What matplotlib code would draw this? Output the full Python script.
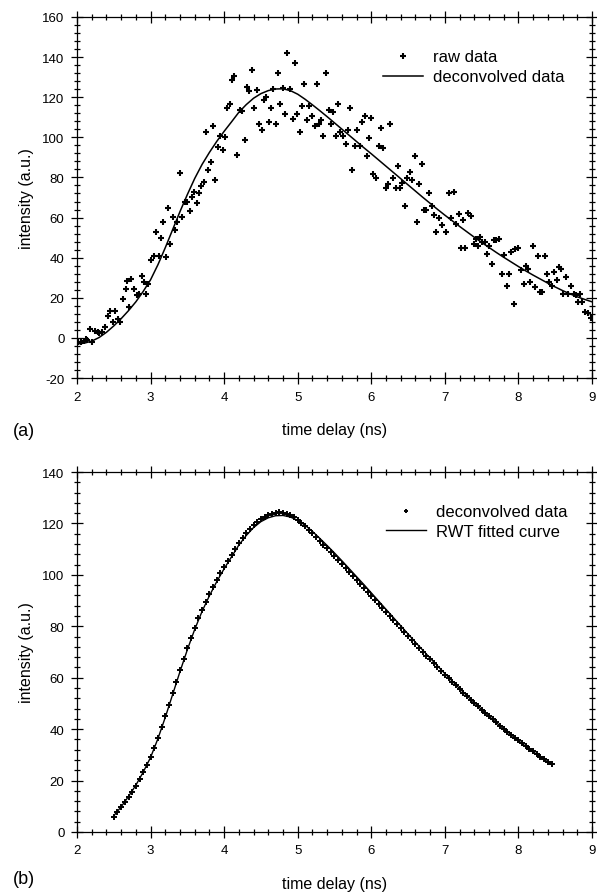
import matplotlib
matplotlib.use("Agg")
import matplotlib.pyplot as plt
from matplotlib.ticker import MultipleLocator

plt.rcParams["font.family"] = ["Liberation Sans", "DejaVu Sans"]
plt.rcParams["axes.unicode_minus"] = False

# ── (a) raw data (time delay ns, intensity a.u.) ─────────────────────────────
raw_t = [2.01, 2.05, 2.09, 2.12, 2.14, 2.17, 2.20, 2.24, 2.28, 2.30, 2.34, 2.38,
         2.42, 2.45, 2.49, 2.52, 2.56, 2.58, 2.62, 2.66, 2.68, 2.71, 2.74, 2.78,
         2.81, 2.84, 2.88, 2.91, 2.94, 2.97, 3.01, 3.04, 3.07, 3.11, 3.14, 3.17,
         3.21, 3.24, 3.26, 3.30, 3.33, 3.36, 3.40, 3.43, 3.47, 3.49, 3.53, 3.56,
         3.59, 3.63, 3.66, 3.69, 3.72, 3.75, 3.78, 3.82, 3.85, 3.88, 3.92, 3.95,
         3.98, 4.01, 4.04, 4.08, 4.11, 4.14, 4.18, 4.21, 4.24, 4.28, 4.31, 4.34,
         4.38, 4.41, 4.44, 4.47, 4.51, 4.54, 4.57, 4.61, 4.64, 4.67, 4.70, 4.73,
         4.76, 4.80, 4.83, 4.86, 4.89, 4.93, 4.96, 4.99, 5.03, 5.06, 5.09, 5.13,
         5.16, 5.19, 5.23, 5.26, 5.29, 5.32, 5.35, 5.38, 5.42, 5.45, 5.48, 5.52,
         5.55, 5.58, 5.61, 5.65, 5.68, 5.71, 5.74, 5.78, 5.81, 5.84, 5.87, 5.91,
         5.94, 5.97, 6.00, 6.03, 6.07, 6.10, 6.13, 6.16, 6.20, 6.23, 6.26, 6.30,
         6.33, 6.36, 6.39, 6.42, 6.46, 6.49, 6.52, 6.55, 6.59, 6.62, 6.65, 6.69,
         6.72, 6.75, 6.78, 6.82, 6.85, 6.88, 6.92, 6.96, 7.01, 7.05, 7.08, 7.12,
         7.15, 7.19, 7.22, 7.25, 7.28, 7.31, 7.35, 7.39, 7.42, 7.45, 7.48, 7.51,
         7.54, 7.57, 7.60, 7.64, 7.67, 7.70, 7.74, 7.78, 7.80, 7.84, 7.87, 7.90,
         7.94, 7.96, 7.99, 8.03, 8.07, 8.10, 8.13, 8.16, 8.20, 8.23, 8.26, 8.29,
         8.32, 8.36, 8.39, 8.42, 8.46, 8.48, 8.52, 8.55, 8.58, 8.61, 8.65, 8.68,
         8.71, 8.75, 8.78, 8.81, 8.84, 8.87, 8.91, 8.95, 8.99]
raw_y = [-2.2, -2.2, -1.5, -0.5, -0.9, 4.4, -1.9, 3.6, 2.8, 2.4, 3.1, 5.3,
         11.1, 13.4, 7.8, 13.4, 9.4, 8.1, 19.4, 24.4, 28.5, 15.3, 29.4, 24.4,
         21.4, 21.9, 31.0, 28.0, 21.9, 26.9, 39.0, 41.0, 53.0, 40.7, 49.8, 58.0,
         40.2, 64.7, 47.0, 60.1, 54.0, 57.6, 82.0, 60.1, 67.9, 67.9, 63.1, 70.1,
         72.9, 67.1, 72.1, 75.9, 77.9, 102.8, 83.9, 87.8, 105.8, 78.9, 95.0, 100.8,
         93.8, 100.0, 114.6, 116.8, 128.7, 130.7, 91.2, 113.6, 113.0, 98.8, 124.9, 122.9,
         133.7, 114.8, 123.7, 106.6, 103.8, 118.7, 119.9, 107.8, 114.8, 124.1, 106.6, 131.9,
         116.6, 124.4, 111.6, 142.0, 124.1, 109.1, 136.9, 111.6, 102.8, 115.8, 126.6, 108.8,
         115.8, 110.8, 105.8, 126.6, 106.6, 108.8, 100.8, 131.9, 113.8, 106.6, 112.8, 100.8,
         116.8, 102.8, 100.8, 96.8, 103.8, 114.8, 83.9, 95.8, 103.8, 95.8, 107.8, 110.8,
         90.8, 99.8, 109.8, 81.9, 79.7, 95.8, 104.8, 94.8, 74.7, 76.9, 106.6, 79.7,
         74.7, 85.8, 74.7, 77.2, 65.9, 79.7, 82.9, 78.9, 90.8, 57.9, 76.9, 86.7,
         63.9, 63.9, 72.1, 65.9, 61.4, 52.9, 59.8, 56.3, 52.9, 72.1, 59.6, 72.9,
         56.8, 61.8, 44.8, 58.9, 44.8, 62.1, 60.9, 46.8, 49.3, 45.7, 50.1, 47.7,
         47.7, 41.8, 46.0, 36.8, 49.0, 49.0, 49.3, 31.9, 41.3, 26.0, 31.9, 43.0,
         16.9, 44.3, 44.7, 34.0, 26.9, 36.0, 34.3, 27.7, 46.0, 25.2, 40.7, 23.0,
         23.0, 40.7, 31.9, 28.0, 25.7, 33.0, 28.9, 35.2, 34.3, 21.9, 30.2, 21.9,
         26.0, 21.9, 21.4, 17.7, 21.9, 17.7, 12.8, 12.4, 9.8]

# ── (a) deconvolved curve ────────────────────────────────────────────────────
decon_t = [2.0, 2.1, 2.2, 2.3, 2.4, 2.5, 2.6, 2.7, 2.8, 2.9, 3.0, 3.1, 3.2, 3.3,
           3.4, 3.5, 3.6, 3.7, 3.8, 3.9, 4.0, 4.1, 4.2, 4.3, 4.4, 4.5, 4.6, 4.7,
           4.8, 4.9, 5.0, 5.1, 5.2, 5.3, 5.4, 5.5, 5.6, 5.7, 5.8, 5.9, 6.0, 6.1,
           6.2, 6.3, 6.4, 6.5, 6.6, 6.7, 6.8, 6.9, 7.0, 7.1, 7.2, 7.3, 7.4, 7.5,
           7.6, 7.7, 7.8, 7.9, 8.0, 8.1, 8.2, 8.3, 8.4, 8.5, 8.6, 8.7, 8.8, 8.9, 9.0]
decon_y = [-3.0, -2.6, -1.6, 0.2, 2.8, 6.0, 9.6, 13.6, 18.0, 23.2, 29.0, 36.5, 45.0, 54.0,
           63.0, 71.5, 79.5, 86.5, 92.5, 98.0, 103.0, 107.7, 112.5, 116.3, 119.5, 121.8, 123.3, 124.1,
           124.2, 123.3, 121.5, 119.0, 116.2, 113.3, 110.3, 107.2, 104.1, 101.0, 97.9, 94.8, 91.8, 88.7,
           85.6, 82.5, 79.4, 76.3, 73.2, 70.1, 67.1, 64.1, 61.2, 58.4, 55.6, 52.9, 50.2, 47.6,
           45.1, 42.6, 40.2, 37.9, 35.6, 33.4, 31.3, 29.3, 27.3, 25.4, 23.6, 22.0, 20.5, 19.2, 18.0]

# ── (b) deconvolved data points ──────────────────────────────────────────────
pts_t = [2.50, 2.55, 2.60, 2.65, 2.70, 2.75, 2.80, 2.85, 2.90, 2.95, 3.00, 3.05,
         3.10, 3.15, 3.20, 3.25, 3.30, 3.35, 3.40, 3.45, 3.50, 3.55, 3.60, 3.65,
         3.70, 3.75, 3.80, 3.85, 3.90, 3.95, 4.00, 4.05, 4.10, 4.15, 4.20, 4.25,
         4.30, 4.35, 4.40, 4.45, 4.50, 4.55, 4.60, 4.65, 4.70, 4.75, 4.80, 4.85,
         4.90, 4.95, 5.00, 5.05, 5.10, 5.15, 5.20, 5.25, 5.30, 5.35, 5.40, 5.45,
         5.50, 5.55, 5.60, 5.65, 5.70, 5.75, 5.80, 5.85, 5.90, 5.95, 6.00, 6.05,
         6.10, 6.15, 6.20, 6.25, 6.30, 6.35, 6.40, 6.45, 6.50, 6.55, 6.60, 6.65,
         6.70, 6.75, 6.80, 6.85, 6.90, 6.95, 7.00, 7.05, 7.10, 7.15, 7.20, 7.25,
         7.30, 7.35, 7.40, 7.45, 7.50, 7.55, 7.60, 7.65, 7.70, 7.75, 7.80, 7.85,
         7.90, 7.95, 8.00, 8.05, 8.10, 8.15, 8.20, 8.25, 8.30, 8.35, 8.40, 8.45]
pts_y = [6.0, 7.7, 9.6, 11.5, 13.6, 15.7, 18.0, 20.5, 23.2, 26.0, 29.0, 32.6,
         36.5, 40.7, 45.0, 49.5, 54.0, 58.5, 63.0, 67.3, 71.5, 75.6, 79.5, 83.1,
         86.5, 89.6, 92.5, 95.3, 98.0, 100.6, 103.0, 105.4, 107.7, 110.1, 112.5, 114.5,
         116.3, 118.0, 119.5, 120.7, 121.8, 122.6, 123.3, 123.8, 124.1, 124.3, 124.2, 123.8,
         123.3, 122.5, 121.5, 120.3, 119.0, 117.6, 116.2, 114.8, 113.3, 111.8, 110.3, 108.8,
         107.2, 105.7, 104.1, 102.6, 101.0, 99.5, 97.9, 96.4, 94.8, 93.3, 91.8, 90.2,
         88.7, 87.1, 85.6, 84.0, 82.5, 81.0, 79.4, 77.9, 76.3, 74.8, 73.2, 71.7,
         70.1, 68.6, 67.1, 65.6, 64.1, 62.6, 61.2, 59.8, 58.4, 57.0, 55.6, 54.2,
         52.9, 51.5, 50.2, 48.9, 47.6, 46.3, 45.1, 43.8, 42.6, 41.4, 40.2, 39.0,
         37.9, 36.7, 35.6, 34.5, 33.4, 32.3, 31.3, 30.3, 29.3, 28.3, 27.3, 26.3]

# ── (b) RWT fitted curve ─────────────────────────────────────────────────────
fit_t = [2.5, 2.6, 2.7, 2.8, 2.9, 3.0, 3.1, 3.2, 3.3, 3.4, 3.5, 3.6, 3.7, 3.8,
         3.9, 4.0, 4.1, 4.2, 4.3, 4.4, 4.5, 4.6, 4.7, 4.8, 4.9, 5.0, 5.1, 5.2,
         5.3, 5.4, 5.5, 5.6, 5.7, 5.8, 5.9, 6.0, 6.1, 6.2, 6.3, 6.4, 6.5, 6.6,
         6.7, 6.8, 6.9, 7.0, 7.1, 7.2, 7.3, 7.4, 7.5, 7.6, 7.7, 7.8, 7.9, 8.0,
         8.1, 8.2, 8.3, 8.4, 8.45]
fit_y = [6.3, 9.8, 13.8, 18.2, 23.3, 29.0, 36.3, 44.6, 53.5, 62.4, 70.9, 78.8, 85.8, 91.9,
         97.4, 102.4, 107.0, 111.6, 115.3, 118.4, 120.7, 122.2, 123.0, 123.1, 122.5, 121.2, 119.3, 116.9,
         114.2, 111.4, 108.5, 105.5, 102.4, 99.3, 96.2, 93.0, 89.8, 86.6, 83.4, 80.2, 77.0, 73.8,
         70.7, 67.6, 64.6, 61.6, 58.7, 55.8, 53.0, 50.3, 47.6, 45.0, 42.5, 40.1, 37.8, 35.5,
         33.3, 31.2, 29.2, 27.2, 26.2]


def style_axes(ax, ymin, ymax):
    ax.set_xlim(2, 9)
    ax.set_ylim(ymin, ymax)
    ax.xaxis.set_major_locator(MultipleLocator(1))
    ax.xaxis.set_minor_locator(MultipleLocator(0.2))
    ax.yaxis.set_major_locator(MultipleLocator(20))
    ax.yaxis.set_minor_locator(MultipleLocator(4))
    ax.tick_params(which="both", direction="inout", top=True, right=True,
                   width=0.9, labelsize=9.5, pad=5)
    ax.tick_params(which="major", length=8)
    ax.tick_params(which="minor", length=5)
    for sp in ax.spines.values():
        sp.set_linewidth(0.9)
    ax.set_xlabel("time delay (ns)", fontsize=11.5, labelpad=14)
    ax.set_ylabel("intensity (a.u.)", fontsize=11.5, labelpad=6)


fig = plt.figure(figsize=(5.97, 8.95), dpi=100)
ax1 = fig.add_axes([0.129, 0.5765, 0.8626, 0.4034])
ax2 = fig.add_axes([0.129, 0.0693, 0.8626, 0.4022])

# (a)
ax1.plot(raw_t, raw_y, linestyle="none", marker="+", markersize=4.5,
         markeredgewidth=1.5, color="black", label="raw data")
ax1.plot(decon_t, decon_y, color="black", linewidth=1.1, label="deconvolved data")
style_axes(ax1, -20, 160)
ax1.legend(loc="upper left", bbox_to_anchor=(0.595, 0.91), frameon=False,
           fontsize=12, borderpad=0, borderaxespad=0, handlelength=2.4,
           handletextpad=0.6, labelspacing=0.3, markerscale=0.9)

# (b)
ax2.plot(pts_t, pts_y, linestyle="none", marker="+", markersize=4.2,
         markeredgewidth=1.4, color="black", label="deconvolved data")
ax2.plot(fit_t, fit_y, color="black", linewidth=1.0, label="RWT fitted curve")
style_axes(ax2, 0, 140)
ax2.legend(loc="upper left", bbox_to_anchor=(0.60, 0.91), frameon=False,
           fontsize=12, borderpad=0, borderaxespad=0, handlelength=2.4,
           handletextpad=0.6, labelspacing=0.25, markerscale=0.7)

fig.text(0.04, 1 - 432 / 895, "(a)", fontsize=13, ha="center", va="center")
fig.text(0.04, 1 - 880 / 895, "(b)", fontsize=13, ha="center", va="center")

fig.savefig("out.png", dpi=100)
